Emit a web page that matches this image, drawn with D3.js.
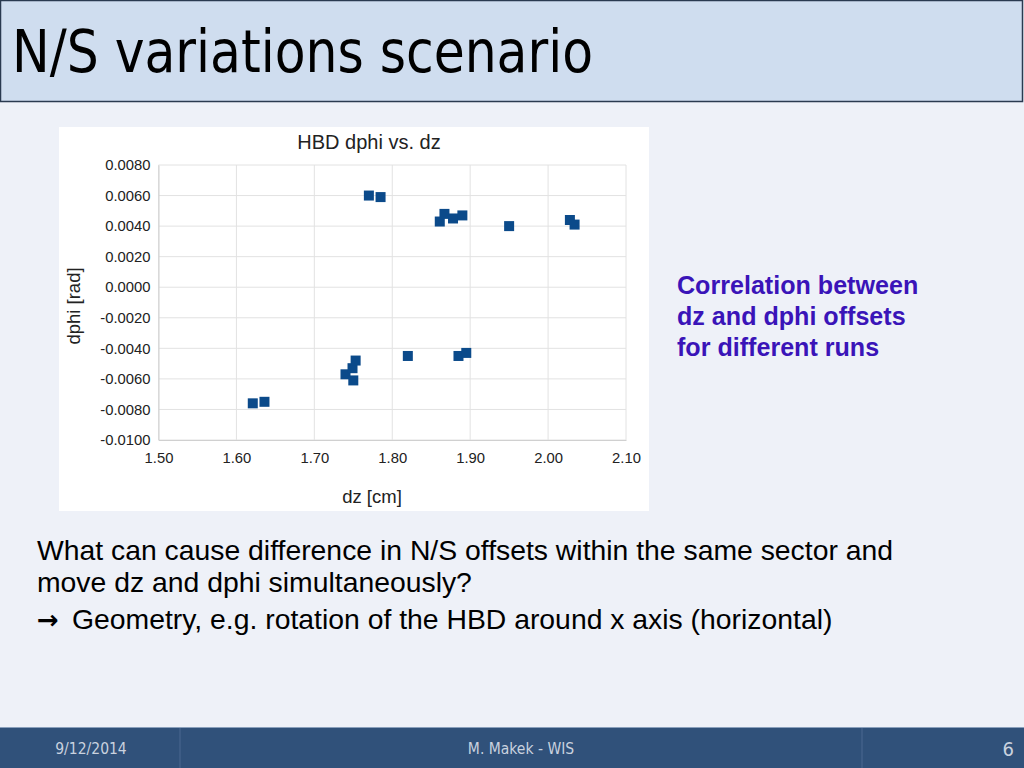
<!DOCTYPE html>
<html>
<head>
<meta charset="utf-8">
<script src="https://cdn.jsdelivr.net/npm/d3@7"></script>
<style>
  html, body { margin: 0; padding: 0; background: #eef1f8; }
  svg { display: block; }
</style>
</head>
<body>
<div id="slide"></div>
<script>
// data: dz [cm] and dphi [rad] for each run
const dz = [1.770, 1.785, 1.861, 1.867, 1.878, 1.890, 1.950, 2.028, 2.034,
            1.621, 1.636, 1.740, 1.750, 1.749, 1.753, 1.820, 1.885, 1.895];
const dphi = [0.0060, 0.0059, 0.0043, 0.0048, 0.0045, 0.0047, 0.0040, 0.0044, 0.0041,
              -0.0076, -0.0075, -0.0057, -0.0061, -0.0053, -0.0048, -0.0045, -0.0045, -0.0043];
const xTicks = [1.5, 1.6, 1.7, 1.8, 1.9, 2.0, 2.1];
const yTicks = [-0.010, -0.008, -0.006, -0.004, -0.002, 0, 0.002, 0.004, 0.006, 0.008];
const sideText = ["Correlation between", "dz and dphi offsets", "for different runs"];
const bodyText = ["What can cause difference in N/S offsets within the same sector and",
                  "move dz and dphi simultaneously?",
                  "Geometry, e.g. rotation of the HBD around x axis (horizontal)"];
const footer = ["9/12/2014", "M. Makek - WIS", "6"];

const W = 1024, H = 768;
const svg = d3.select("#slide").append("svg")
  .attr("width", W).attr("height", H);

svg.append("rect").attr("width", W).attr("height", H).attr("fill", "#eef1f8");

// title bar
svg.append("rect")
  .attr("x", 0.5).attr("y", 0.5).attr("width", 1022).attr("height", 101)
  .attr("fill", "#cfddef").attr("stroke", "#2a3a50").attr("stroke-width", 1.5);
svg.append("text")
  .attr("x", 12).attr("y", 72)
  .attr("font-family", "DejaVu Sans Condensed, DejaVu Sans")
  .attr("font-stretch", "condensed")
  .attr("font-size", 58)
  .attr("textLength", 581).attr("lengthAdjust", "spacingAndGlyphs")
  .attr("fill", "#000")
  .text("N/S variations scenario");

// chart panel
const panel = { x: 59, y: 127, w: 590, h: 384 };
svg.append("rect")
  .attr("x", panel.x).attr("y", panel.y).attr("width", panel.w).attr("height", panel.h)
  .attr("fill", "#fff");

const x = d3.scaleLinear().domain([1.5, 2.1]).range([158.5, 626]);
const y = d3.scaleLinear().domain([-0.010, 0.008]).range([440, 165]);

const g = svg.append("g").attr("font-family", "Liberation Sans, Arial, sans-serif");

// grid
g.selectAll("line.vg").data(xTicks).enter().append("line")
  .attr("x1", d => x(d)).attr("x2", d => x(d))
  .attr("y1", y(0.008)).attr("y2", y(-0.010))
  .attr("stroke", "#e2e2e2").attr("stroke-width", 1);
g.selectAll("line.hg").data(yTicks).enter().append("line")
  .attr("x1", x(1.5)).attr("x2", x(2.1))
  .attr("y1", d => y(d)).attr("y2", d => y(d))
  .attr("stroke", "#e2e2e2").attr("stroke-width", 1);

// axes (labels only, lines come from the grid); plain hyphen for minus like the original
const fmtY = d => d3.format(".4f")(d).replace("\u2212", "-");
const xAxis = g.append("g").attr("transform", `translate(0,${y(-0.010)})`)
  .call(d3.axisBottom(x).tickValues(xTicks).tickFormat(d3.format(".2f")).tickSize(0).tickPadding(12));
const yAxis = g.append("g").attr("transform", `translate(${x(1.5)},0)`)
  .call(d3.axisLeft(y).tickValues(yTicks).tickFormat(fmtY).tickSize(0).tickPadding(8));
[xAxis, yAxis].forEach(a => {
  a.select(".domain").attr("stroke", "#d0d0d0");
  a.selectAll("text").attr("font-size", 14.8).attr("fill", "#222")
    .attr("font-family", "Liberation Sans, Arial, sans-serif");
});

g.append("text")
  .attr("x", 369).attr("y", 149).attr("text-anchor", "middle")
  .attr("font-size", 20).attr("fill", "#222")
  .text("HBD dphi vs. dz");
g.append("text")
  .attr("x", 372).attr("y", 503).attr("text-anchor", "middle")
  .attr("font-size", 18.5).attr("fill", "#222")
  .text("dz [cm]");
g.append("text")
  .attr("transform", "translate(80,306) rotate(-90)").attr("text-anchor", "middle")
  .attr("font-size", 18.5).attr("fill", "#222")
  .text("dphi [rad]");

// markers
const s = 10;
g.selectAll("rect.pt").data(dz).enter().append("rect")
  .attr("x", (d, i) => x(d) - s / 2)
  .attr("y", (d, i) => y(dphi[i]) - s / 2)
  .attr("width", s).attr("height", s)
  .attr("fill", "#0b4a8a");

// side note
svg.append("g").selectAll("text").data(sideText).enter().append("text")
  .attr("x", 677).attr("y", (d, i) => 294 + i * 31)
  .attr("font-family", "Liberation Sans, Arial, sans-serif")
  .attr("font-weight", "bold").attr("font-size", 25.1)
  .attr("fill", "#3a14b8")
  .text(d => d);

// body text
const body = svg.append("g")
  .attr("font-family", "Liberation Sans, Arial, sans-serif")
  .attr("font-size", 28.35).attr("fill", "#000");
body.selectAll("text").data(bodyText).enter().append("text")
  .attr("x", (d, i) => i === 2 ? 72 : 37).attr("y", (d, i) => [560, 592, 629][i])
  .text(d => d);
body.append("text")
  .attr("x", 37).attr("y", 629)
  .attr("font-family", "DejaVu Sans").attr("font-weight", "bold").attr("font-size", 26)
  .text("\u2192");

// footer
svg.append("rect").attr("x", 0).attr("y", 727).attr("width", W).attr("height", 41)
  .attr("fill", "#30517a");
svg.append("line").attr("x1", 0).attr("x2", W).attr("y1", 727.5).attr("y2", 727.5)
  .attr("stroke", "#8aa0bc").attr("stroke-width", 1);
[180, 862].forEach(px => svg.append("line")
  .attr("x1", px).attr("x2", px).attr("y1", 728).attr("y2", H)
  .attr("stroke", "#4a6890").attr("stroke-width", 1));
svg.append("g").selectAll("text").data(footer).enter().append("text")
  .attr("x", (d, i) => [91, 521, 1014][i])
  .attr("text-anchor", (d, i) => i === 2 ? "end" : "middle")
  .attr("y", (d, i) => i === 2 ? 756 : 754)
  .attr("font-family", "DejaVu Sans Condensed, DejaVu Sans")
  .attr("font-stretch", "condensed")
  .attr("font-size", (d, i) => i === 2 ? 20 : 15.5)
  .attr("fill", "#c9d2df")
  .text(d => d);
</script>
</body>
</html>
